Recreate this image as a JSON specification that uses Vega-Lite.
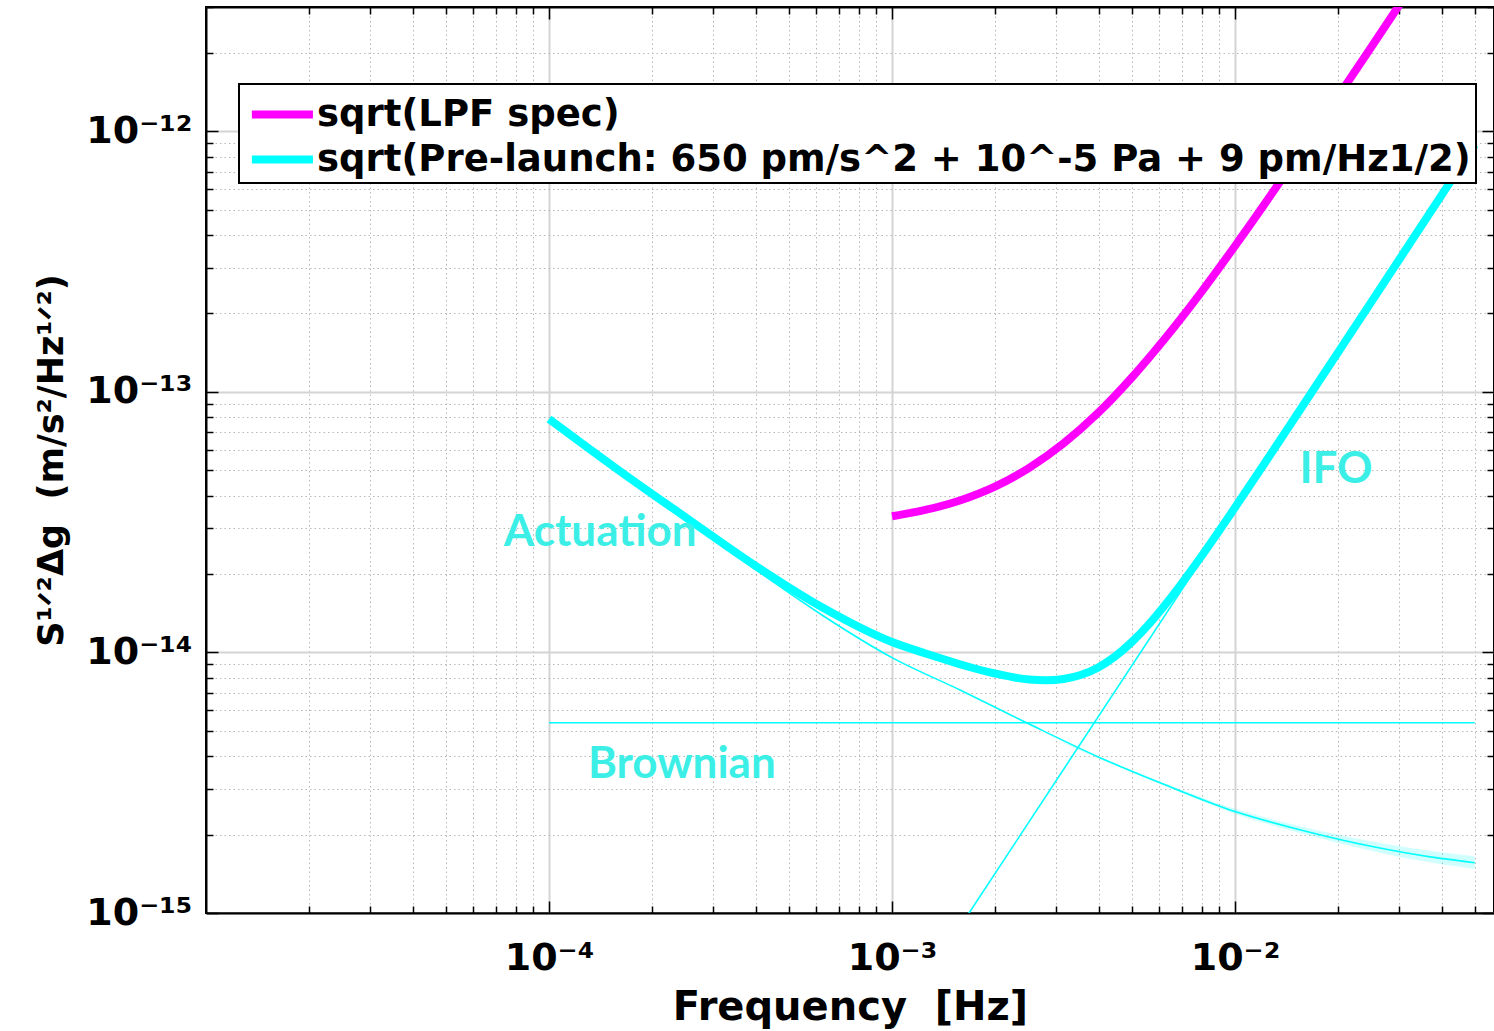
{
  "$schema": "https://vega.github.io/schema/vega-lite/v6.json",
  "width": 1288,
  "height": 906,
  "autosize": {"type": "none"},
  "padding": {"left": 206, "top": 7, "right": 0, "bottom": 118},
  "background": "white",
  "config": {
    "view": {"stroke": "black", "strokeWidth": 2},
    "axis": {"labelFont": "DejaVu Sans", "titleFont": "DejaVu Sans", "labelColor": "black", "titleColor": "black"}
  },
  "datasets": {
    "curves": [
      {"curve": "sqrt(LPF spec)", "f": 0.001, "v": 3.33e-14},
      {"curve": "sqrt(LPF spec)", "f": 0.0012589, "v": 3.53e-14},
      {"curve": "sqrt(LPF spec)", "f": 0.0015849, "v": 3.84e-14},
      {"curve": "sqrt(LPF spec)", "f": 0.0019953, "v": 4.33e-14},
      {"curve": "sqrt(LPF spec)", "f": 0.0025119, "v": 5.11e-14},
      {"curve": "sqrt(LPF spec)", "f": 0.0031623, "v": 6.34e-14},
      {"curve": "sqrt(LPF spec)", "f": 0.0039811, "v": 8.28e-14},
      {"curve": "sqrt(LPF spec)", "f": 0.0050119, "v": 1.138e-13},
      {"curve": "sqrt(LPF spec)", "f": 0.0063096, "v": 1.627e-13},
      {"curve": "sqrt(LPF spec)", "f": 0.0079433, "v": 2.40e-13},
      {"curve": "sqrt(LPF spec)", "f": 0.01, "v": 3.63e-13},
      {"curve": "sqrt(LPF spec)", "f": 0.012589, "v": 5.58e-13},
      {"curve": "sqrt(LPF spec)", "f": 0.015849, "v": 8.67e-13},
      {"curve": "sqrt(LPF spec)", "f": 0.019953, "v": 1.356e-12},
      {"curve": "sqrt(LPF spec)", "f": 0.025119, "v": 2.13e-12},
      {"curve": "sqrt(LPF spec)", "f": 0.031623, "v": 3.36e-12},
      {"curve": "sqrt(Pre-launch: 650 pm/s^2 + 10^-5 Pa + 9 pm/Hz1/2)", "f": 0.0001, "v": 7.87e-14},
      {"curve": "sqrt(Pre-launch: 650 pm/s^2 + 10^-5 Pa + 9 pm/Hz1/2)", "f": 0.00015849, "v": 5.04e-14},
      {"curve": "sqrt(Pre-launch: 650 pm/s^2 + 10^-5 Pa + 9 pm/Hz1/2)", "f": 0.00025119, "v": 3.29e-14},
      {"curve": "sqrt(Pre-launch: 650 pm/s^2 + 10^-5 Pa + 9 pm/Hz1/2)", "f": 0.00039811, "v": 2.16e-14},
      {"curve": "sqrt(Pre-launch: 650 pm/s^2 + 10^-5 Pa + 9 pm/Hz1/2)", "f": 0.00063096, "v": 1.48e-14},
      {"curve": "sqrt(Pre-launch: 650 pm/s^2 + 10^-5 Pa + 9 pm/Hz1/2)", "f": 0.001, "v": 1.096e-14},
      {"curve": "sqrt(Pre-launch: 650 pm/s^2 + 10^-5 Pa + 9 pm/Hz1/2)", "f": 0.0012589, "v": 9.89e-15},
      {"curve": "sqrt(Pre-launch: 650 pm/s^2 + 10^-5 Pa + 9 pm/Hz1/2)", "f": 0.0015849, "v": 8.99e-15},
      {"curve": "sqrt(Pre-launch: 650 pm/s^2 + 10^-5 Pa + 9 pm/Hz1/2)", "f": 0.0019953, "v": 8.30e-15},
      {"curve": "sqrt(Pre-launch: 650 pm/s^2 + 10^-5 Pa + 9 pm/Hz1/2)", "f": 0.0025119, "v": 7.87e-15},
      {"curve": "sqrt(Pre-launch: 650 pm/s^2 + 10^-5 Pa + 9 pm/Hz1/2)", "f": 0.0028184, "v": 7.82e-15},
      {"curve": "sqrt(Pre-launch: 650 pm/s^2 + 10^-5 Pa + 9 pm/Hz1/2)", "f": 0.0031623, "v": 7.91e-15},
      {"curve": "sqrt(Pre-launch: 650 pm/s^2 + 10^-5 Pa + 9 pm/Hz1/2)", "f": 0.0035481, "v": 8.19e-15},
      {"curve": "sqrt(Pre-launch: 650 pm/s^2 + 10^-5 Pa + 9 pm/Hz1/2)", "f": 0.0039811, "v": 8.74e-15},
      {"curve": "sqrt(Pre-launch: 650 pm/s^2 + 10^-5 Pa + 9 pm/Hz1/2)", "f": 0.0044668, "v": 9.65e-15},
      {"curve": "sqrt(Pre-launch: 650 pm/s^2 + 10^-5 Pa + 9 pm/Hz1/2)", "f": 0.0050119, "v": 1.099e-14},
      {"curve": "sqrt(Pre-launch: 650 pm/s^2 + 10^-5 Pa + 9 pm/Hz1/2)", "f": 0.0056234, "v": 1.287e-14},
      {"curve": "sqrt(Pre-launch: 650 pm/s^2 + 10^-5 Pa + 9 pm/Hz1/2)", "f": 0.0063096, "v": 1.544e-14},
      {"curve": "sqrt(Pre-launch: 650 pm/s^2 + 10^-5 Pa + 9 pm/Hz1/2)", "f": 0.0079433, "v": 2.32e-14},
      {"curve": "sqrt(Pre-launch: 650 pm/s^2 + 10^-5 Pa + 9 pm/Hz1/2)", "f": 0.01, "v": 3.60e-14},
      {"curve": "sqrt(Pre-launch: 650 pm/s^2 + 10^-5 Pa + 9 pm/Hz1/2)", "f": 0.012589, "v": 5.66e-14},
      {"curve": "sqrt(Pre-launch: 650 pm/s^2 + 10^-5 Pa + 9 pm/Hz1/2)", "f": 0.015849, "v": 8.94e-14},
      {"curve": "sqrt(Pre-launch: 650 pm/s^2 + 10^-5 Pa + 9 pm/Hz1/2)", "f": 0.019953, "v": 1.415e-13},
      {"curve": "sqrt(Pre-launch: 650 pm/s^2 + 10^-5 Pa + 9 pm/Hz1/2)", "f": 0.025119, "v": 2.24e-13},
      {"curve": "sqrt(Pre-launch: 650 pm/s^2 + 10^-5 Pa + 9 pm/Hz1/2)", "f": 0.031623, "v": 3.55e-13},
      {"curve": "sqrt(Pre-launch: 650 pm/s^2 + 10^-5 Pa + 9 pm/Hz1/2)", "f": 0.039811, "v": 5.63e-13},
      {"curve": "sqrt(Pre-launch: 650 pm/s^2 + 10^-5 Pa + 9 pm/Hz1/2)", "f": 0.05, "v": 8.88e-13},
      {"curve": "Actuation", "f": 0.0001, "v": 7.85e-14},
      {"curve": "Actuation", "f": 0.00015849, "v": 5.01e-14},
      {"curve": "Actuation", "f": 0.00025119, "v": 3.24e-14},
      {"curve": "Actuation", "f": 0.00039811, "v": 2.09e-14},
      {"curve": "Actuation", "f": 0.00063096, "v": 1.38e-14},
      {"curve": "Actuation", "f": 0.001, "v": 9.55e-15},
      {"curve": "Actuation", "f": 0.0015849, "v": 7.16e-15},
      {"curve": "Actuation", "f": 0.0025119, "v": 5.31e-15},
      {"curve": "Actuation", "f": 0.0039811, "v": 3.98e-15},
      {"curve": "Actuation", "f": 0.0063096, "v": 3.09e-15},
      {"curve": "Actuation", "f": 0.01, "v": 2.45e-15},
      {"curve": "Actuation", "f": 0.015849, "v": 2.07e-15},
      {"curve": "Actuation", "f": 0.025119, "v": 1.80e-15},
      {"curve": "Actuation", "f": 0.039811, "v": 1.62e-15},
      {"curve": "Actuation", "f": 0.05, "v": 1.56e-15},
      {"curve": "Brownian", "f": 0.0001, "v": 5.37e-15},
      {"curve": "Brownian", "f": 0.05, "v": 5.37e-15},
      {"curve": "IFO", "f": 0.0015849, "v": 8.93e-16},
      {"curve": "IFO", "f": 0.05, "v": 8.88e-13}
    ],
    "band": [
      {"f": 0.0031623, "lo": 4.48e-15, "hi": 4.52e-15},
      {"f": 0.0063096, "lo": 3.05e-15, "hi": 3.13e-15},
      {"f": 0.01, "lo": 2.40e-15, "hi": 2.51e-15},
      {"f": 0.015849, "lo": 2.01e-15, "hi": 2.14e-15},
      {"f": 0.025119, "lo": 1.73e-15, "hi": 1.88e-15},
      {"f": 0.039811, "lo": 1.54e-15, "hi": 1.71e-15},
      {"f": 0.05, "lo": 1.48e-15, "hi": 1.65e-15}
    ],
    "notes": [
      {"label": "Actuation", "f": 0.000141, "v": 2.88e-14},
      {"label": "Brownian", "f": 0.000244, "v": 3.71e-15},
      {"label": "IFO", "f": 0.0197, "v": 5.03e-14}
    ]
  },
  "resolve": {"axis": {"x": "independent", "y": "independent"}},
  "layer": [
    {
      "data": {"name": "band"},
      "mark": {"type": "area", "clip": true, "color": "#00ffff", "opacity": 0.18, "interpolate": "monotone"},
      "encoding": {
        "x": {"field": "f", "type": "quantitative", "scale": {"type": "log", "domain": [0.00001, 0.0569], "nice": false}, "axis": null},
        "y": {"field": "lo", "type": "quantitative", "scale": {"type": "log", "domain": [1e-15, 3e-12], "nice": false}, "axis": null},
        "y2": {"field": "hi"}
      }
    },
    {
      "data": {"name": "curves"},
      "transform": [{"filter": "indexof(['Actuation','Brownian','IFO'], datum.curve) >= 0"}],
      "mark": {"type": "line", "clip": true, "strokeWidth": 1.6, "color": "#00ffff", "interpolate": "monotone"},
      "encoding": {
        "x": {"field": "f", "type": "quantitative", "scale": {"type": "log", "domain": [0.00001, 0.0569], "nice": false},
          "axis": {"orient": "top", "title": null, "labels": false, "grid": false, "domainColor": "black", "domainWidth": 2,
            "values": [0.00002,0.00003,0.00004,0.00005,0.00006,0.00007,0.00008,0.00009,0.0001,0.0002,0.0003,0.0004,0.0005,0.0006,0.0007,0.0008,0.0009,0.001,0.002,0.003,0.004,0.005,0.006,0.007,0.008,0.009,0.01,0.02,0.03,0.04,0.05],
            "tickColor": "black", "tickWidth": 1.5,
            "tickSize": {"condition": {"test": "abs(log(datum.value)/LN10 - round(log(datum.value)/LN10)) < 0.01", "value": -12}, "value": -7}}},
        "y": {"field": "v", "type": "quantitative", "scale": {"type": "log", "domain": [1e-15, 3e-12], "nice": false},
          "axis": {"orient": "right", "title": null, "labels": false, "grid": false, "domainColor": "black", "domainWidth": 2,
            "values": [1e-15,2e-15,3e-15,4e-15,5e-15,6e-15,7e-15,8e-15,9e-15,1e-14,2e-14,3e-14,4e-14,5e-14,6e-14,7e-14,8e-14,9e-14,1e-13,2e-13,3e-13,4e-13,5e-13,6e-13,7e-13,8e-13,9e-13,1e-12,2e-12,3e-12],
            "tickColor": "black", "tickWidth": 1.5,
            "tickSize": {"condition": {"test": "abs(log(datum.value)/LN10 - round(log(datum.value)/LN10)) < 0.01", "value": -12}, "value": -7}}},
        "detail": {"field": "curve", "type": "nominal"}
      }
    },
    {
      "data": {"name": "curves"},
      "transform": [{"filter": "indexof(['Actuation','Brownian','IFO'], datum.curve) < 0"}],
      "mark": {"type": "line", "clip": true, "strokeWidth": 8, "interpolate": "monotone"},
      "encoding": {
        "x": {"field": "f", "type": "quantitative", "scale": {"type": "log", "domain": [0.00001, 0.0569], "nice": false},
          "axis": {"orient": "bottom", "title": "Frequency\u00a0\u00a0[Hz]", "titleFontSize": 40, "titleFontWeight": "bold", "titlePadding": 5,
            "values": [0.00002,0.00003,0.00004,0.00005,0.00006,0.00007,0.00008,0.00009,0.0001,0.0002,0.0003,0.0004,0.0005,0.0006,0.0007,0.0008,0.0009,0.001,0.002,0.003,0.004,0.005,0.006,0.007,0.008,0.009,0.01,0.02,0.03,0.04,0.05],
            "labelExpr": "abs(log(datum.value)/LN10 - round(log(datum.value)/LN10)) < 0.01 ? '10' + replace(replace(replace(replace(replace(replace(replace('' + round(log(datum.value)/LN10), '-', '⁻'), '1', '¹'), '2', '²'), '3', '³'), '4', '⁴'), '5', '⁵'), '0', '⁰') : ''",
            "labelFontSize": 38, "labelFontWeight": "bold", "labelPadding": 38, "labelOverlap": false, "labelFlush": false, "labelBound": false,
            "domainColor": "black", "domainWidth": 2, "tickColor": "black", "tickWidth": 1.5,
            "tickSize": {"condition": {"test": "abs(log(datum.value)/LN10 - round(log(datum.value)/LN10)) < 0.01", "value": -12}, "value": -7},
            "grid": true,
            "gridColor": {"condition": {"test": "abs(log(datum.value)/LN10 - round(log(datum.value)/LN10)) < 0.01", "value": "#d4d4d4"}, "value": "#b8b8b8"},
            "gridDash": {"condition": {"test": "abs(log(datum.value)/LN10 - round(log(datum.value)/LN10)) < 0.01", "value": []}, "value": [1.5, 3]},
            "gridWidth": {"condition": {"test": "abs(log(datum.value)/LN10 - round(log(datum.value)/LN10)) < 0.01", "value": 2}, "value": 1}}},
        "y": {"field": "v", "type": "quantitative", "scale": {"type": "log", "domain": [1e-15, 3e-12], "nice": false},
          "axis": {"orient": "left", "title": "S¹ᐟ²Δg\u00a0\u00a0(m/s²/Hz¹ᐟ²)", "titleFontSize": 35, "titleFontWeight": "bold", "titlePadding": 16,
            "values": [1e-15,2e-15,3e-15,4e-15,5e-15,6e-15,7e-15,8e-15,9e-15,1e-14,2e-14,3e-14,4e-14,5e-14,6e-14,7e-14,8e-14,9e-14,1e-13,2e-13,3e-13,4e-13,5e-13,6e-13,7e-13,8e-13,9e-13,1e-12,2e-12,3e-12],
            "labelExpr": "abs(log(datum.value)/LN10 - round(log(datum.value)/LN10)) < 0.01 ? '10' + replace(replace(replace(replace(replace(replace(replace('' + round(log(datum.value)/LN10), '-', '⁻'), '1', '¹'), '2', '²'), '3', '³'), '4', '⁴'), '5', '⁵'), '0', '⁰') : ''",
            "labelFontSize": 38, "labelFontWeight": "bold", "labelPadding": 26, "labelOverlap": false, "labelFlush": false, "labelBound": false,
            "domainColor": "black", "domainWidth": 2, "tickColor": "black", "tickWidth": 1.5,
            "tickSize": {"condition": {"test": "abs(log(datum.value)/LN10 - round(log(datum.value)/LN10)) < 0.01", "value": -12}, "value": -7},
            "grid": true,
            "gridColor": {"condition": {"test": "abs(log(datum.value)/LN10 - round(log(datum.value)/LN10)) < 0.01", "value": "#d4d4d4"}, "value": "#b8b8b8"},
            "gridDash": {"condition": {"test": "abs(log(datum.value)/LN10 - round(log(datum.value)/LN10)) < 0.01", "value": []}, "value": [1.5, 3]},
            "gridWidth": {"condition": {"test": "abs(log(datum.value)/LN10 - round(log(datum.value)/LN10)) < 0.01", "value": 2}, "value": 1}}},
        "color": {"field": "curve", "type": "nominal",
          "scale": {"domain": ["sqrt(LPF spec)", "sqrt(Pre-launch: 650 pm/s^2 + 10^-5 Pa + 9 pm/Hz1/2)"], "range": ["#ff00ff", "#00ffff"]},
          "legend": {"orient": "none", "legendX": 33, "legendY": 77, "title": null, "fillColor": "white", "strokeColor": "black",
            "padding": 5, "symbolType": "M-0.82,0H2.02", "symbolSize": 1849, "symbolStrokeWidth": 8, "labelOffset": 22,
            "labelFontSize": 37, "labelFont": "DejaVu Sans", "labelFontWeight": "bold", "labelColor": "black", "labelLimit": 3000, "rowPadding": 1,
            "encode": {"legend": {"update": {"strokeWidth": {"value": 2}}}}}}
      }
    },
    {
      "data": {"name": "notes"},
      "mark": {"type": "text", "font": "Lato", "fontWeight": "bold", "fontSize": 44, "color": "#3cefe6", "align": "center", "baseline": "middle"},
      "encoding": {
        "x": {"field": "f", "type": "quantitative", "scale": {"type": "log", "domain": [0.00001, 0.0569], "nice": false}, "axis": null},
        "y": {"field": "v", "type": "quantitative", "scale": {"type": "log", "domain": [1e-15, 3e-12], "nice": false}, "axis": null},
        "text": {"field": "label", "type": "nominal"}
      }
    }
  ]
}
